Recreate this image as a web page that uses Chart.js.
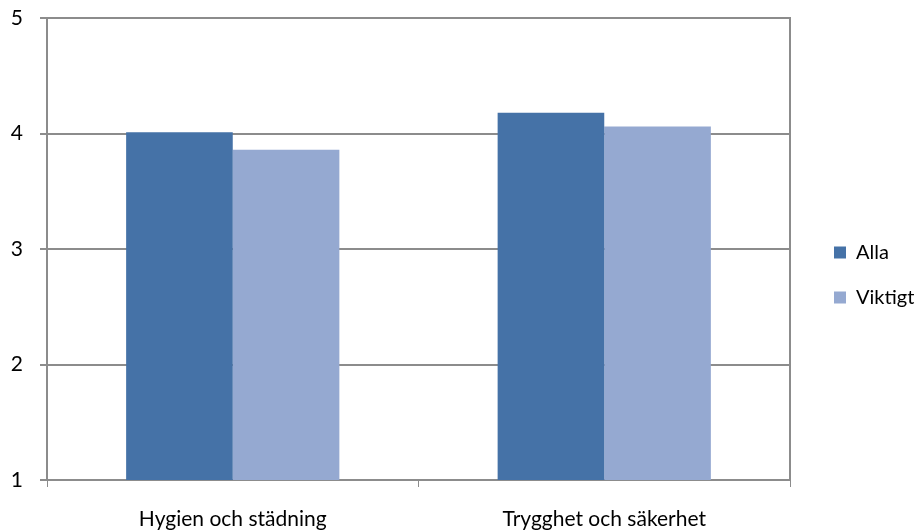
<!DOCTYPE html>
<html>
<head>
<meta charset="utf-8">
<script src="https://cdn.jsdelivr.net/npm/chart.js@4"></script>
<style>
  html, body { margin: 0; padding: 0; background: #fff; }
  #wrap { width: 918px; height: 532px; position: relative; }
</style>
</head>
<body>
<div id="wrap"><canvas id="c" width="918" height="532"></canvas></div>
<script>
const categories = ['Hygien och städning', 'Trygghet och säkerhet'];
const alla = [4.01, 4.18];
const viktigt = [3.86, 4.06];
const yTicks = [1, 2, 3, 4, 5];

const gridGray = '#8c8c8c';
const family = 'Lato, "Open Sans", sans-serif';
const axisFont = { family: family, size: 21 };
const legendFont = { family: family, size: 20 };

// keep the vertical axes from reserving room for half-height tick labels
const noLabelPadding = (s) => { s.paddingTop = 0; s.paddingBottom = 0; };

new Chart(document.getElementById('c'), {
  type: 'bar',
  data: {
    labels: categories,
    datasets: [
      { label: 'Alla', data: alla, backgroundColor: '#4572a7', barPercentage: 1, categoryPercentage: 0.574 },
      { label: 'Viktigt', data: viktigt, backgroundColor: '#95a9d1', barPercentage: 1, categoryPercentage: 0.574 }
    ]
  },
  options: {
    responsive: false,
    animation: false,
    layout: { autoPadding: false, padding: { top: 18, right: 0, left: 0, bottom: 0 } },
    plugins: {
      tooltip: { enabled: false },
      legend: {
        position: 'right',
        maxWidth: 109,
        labels: {
          boxWidth: 12, boxHeight: 12, padding: 25,
          color: '#000', font: legendFont
        }
      }
    },
    scales: {
      x: {
        afterFit: (s) => { s.height = 52; s.paddingLeft = 0; s.paddingRight = 0; },
        grid: { drawOnChartArea: false, tickLength: 7, color: gridGray, offset: true },
        border: { color: gridGray, width: 2 },
        ticks: { color: '#000', font: axisFont, padding: 20 }
      },
      y: {
        min: 1, max: 5,
        afterFit: (s) => { s.width = 47; noLabelPadding(s); },
        afterBuildTicks: (ax) => { ax.ticks = yTicks.map(v => ({ value: v })); },
        grid: { color: gridGray, lineWidth: 2, tickLength: 7 },
        border: { color: gridGray, width: 2 },
        ticks: { color: '#000', font: axisFont, padding: 17 }
      },
      y2: {
        position: 'right',
        min: 1, max: 5,
        afterFit: (s) => { s.width = 19; noLabelPadding(s); },
        grid: { display: false },
        border: { color: gridGray, width: 2 },
        ticks: { display: false }
      }
    }
  }
});
</script>
</body>
</html>
